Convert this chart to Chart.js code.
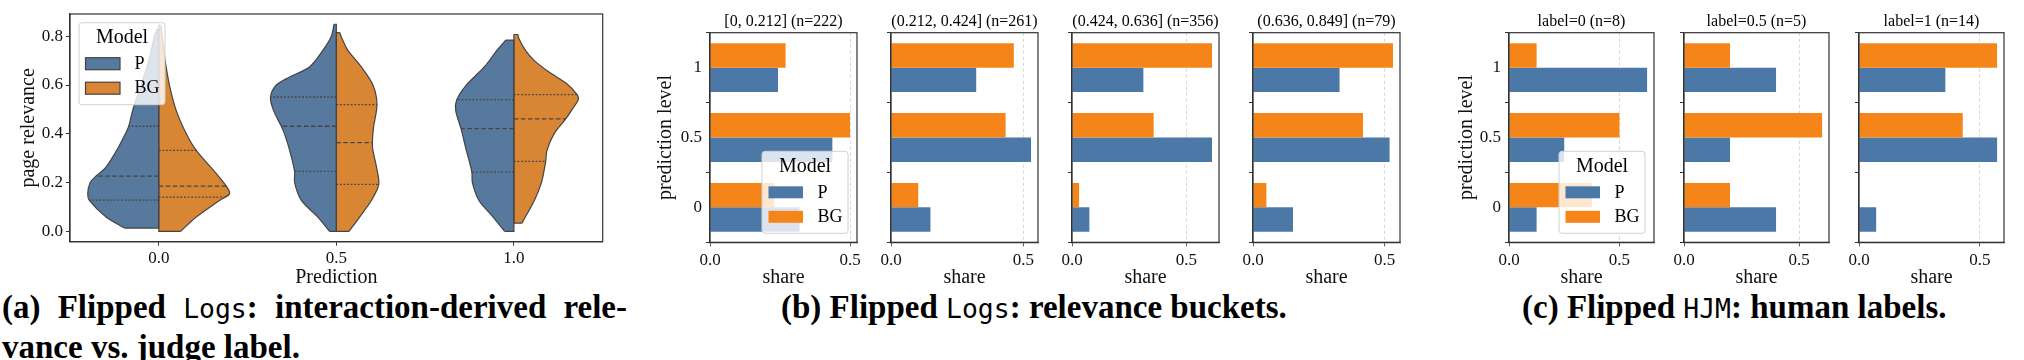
<!DOCTYPE html>
<html>
<head>
<meta charset="utf-8">
<script src="https://cdn.jsdelivr.net/npm/chart.js@4.4.1/dist/chart.umd.min.js"></script>
<style>
  body { margin: 0; background: #fff; width: 2024px; height: 360px; overflow: hidden; position: relative; }
  .cap { position: absolute; font-family: "Liberation Serif", serif; font-weight: bold; font-size: 30px; line-height: 36px; white-space: nowrap; color: #000; }
  .cap code { font-family: "DejaVu Sans Mono", monospace; font-weight: normal; font-size: 0.8em; }
</style>
</head>
<body>
<div class="cap" id="capA1" style="left:2px;top:290px">(a) Flipped <code>Logs</code>: interaction-derived rele-</div>
<div class="cap" id="capA2" style="left:2px;top:326px">vance vs. judge label.</div>
<div class="cap" id="capB" style="left:781px;top:290px">(b) Flipped <code>Logs</code>: relevance buckets.</div>
<div class="cap" id="capC" style="left:1522px;top:290px">(c) Flipped <code>HJM</code>: human labels.</div>
<script>
// ---- data ----
var models = ['P', 'BG'];
var predLabels = ['0.0', '0.5', '1.0'];

// violin outlines per prediction: [page relevance, half width in category units]
var violinP = [
  [[0.014, .193], [0.059, .297], [0.127, .391], [0.155, .400], [0.2, .387], [0.227, .353], [0.264, .297], [0.332, .237], [0.4, .188], [0.431, .169], [0.496, .147], [0.6, .099], [0.7, .056], [0.8, .024], [0.83, .008]],
  [[0.0, .038], [0.059, .104], [0.127, .197], [0.2, .235], [0.246, .235], [0.332, .263], [0.4, .292], [0.431, .310], [0.496, .354], [0.551, .371], [0.6, .338], [0.633, .263], [0.674, .151], [0.742, .076], [0.8, .028], [0.849, .013]],
  [[0.0, .052], [0.059, .117], [0.127, .197], [0.2, .234], [0.243, .237], [0.332, .268], [0.421, .298], [0.496, .328], [0.54, .322], [0.6, .268], [0.674, .167], [0.742, .096], [0.784, .046]]
];
var violinBG = [
  [[0.0, .122], [0.059, .211], [0.127, .342], [0.155, .399], [0.186, .380], [0.237, .324], [0.332, .211], [0.4, .155], [0.496, .098], [0.6, .060], [0.7, .036], [0.8, .019], [0.845, .011]],
  [[0.0, .071], [0.059, .131], [0.127, .197], [0.193, .239], [0.264, .226], [0.332, .206], [0.364, .203], [0.43, .210], [0.52, .229], [0.6, .206], [0.674, .141], [0.742, .065], [0.797, .028], [0.815, .019]],
  [[0.034, .045], [0.127, .115], [0.2, .155], [0.287, .179], [0.332, .186], [0.4, .226], [0.461, .292], [0.51, .337], [0.54, .363], [0.561, .356], [0.606, .296], [0.654, .196], [0.7, .115], [0.742, .065], [0.797, .024], [0.807, .024]]
];
// quartiles (q1, median, q3)
var quartP = [[0.128, 0.227, 0.431], [0.246, 0.431, 0.551], [0.243, 0.421, 0.54]];
var quartBG = [[0.141, 0.186, 0.332], [0.193, 0.364, 0.52], [0.287, 0.461, 0.561]];

var levels = ['1', '0.5', '0'];
var bucketTitles = ['[0, 0.212] (n=222)', '(0.212, 0.424] (n=261)', '(0.424, 0.636] (n=356)', '(0.636, 0.849] (n=79)'];
var bucketP = [[0.243, 0.437, 0.320], [0.322, 0.529, 0.149], [0.312, 0.612, 0.076], [0.329, 0.519, 0.152]];
var bucketBG = [[0.270, 0.500, 0.230], [0.464, 0.433, 0.103], [0.612, 0.357, 0.031], [0.532, 0.418, 0.051]];

var labelTitles = ['label=0 (n=8)', 'label=0.5 (n=5)', 'label=1 (n=14)'];
var labelP = [[0.625, 0.25, 0.125], [0.4, 0.2, 0.4], [0.357, 0.571, 0.071]];
var labelBG = [[0.125, 0.5, 0.375], [0.2, 0.6, 0.2], [0.571, 0.429, 0]];

// ---- style ----
var blue = '#4C78A8', orange = '#F58518';
var vBlue = '#57799E', vOrange = '#D98634';
var edge = '#444444', axisCol = '#333333';
var serif = '"Liberation Serif", "Times New Roman", serif';

var frame = {
  id: 'frame',
  afterDraw: function (chart) {
    var a = chart.chartArea, ctx = chart.ctx;
    ctx.save();
    ctx.strokeStyle = axisCol;
    ctx.lineWidth = 1.2;
    ctx.strokeRect(a.left, a.top, a.right - a.left, a.bottom - a.top);
    ctx.restore();
  }
};

var panelTitle = {
  id: 'panelTitle',
  afterDraw: function (chart, args, opts) {
    if (!opts.text) return;
    var a = chart.chartArea, ctx = chart.ctx;
    ctx.save();
    ctx.font = '16px ' + serif;
    ctx.fillStyle = '#000';
    ctx.textAlign = 'center';
    ctx.textBaseline = 'middle';
    ctx.fillText(opts.text, (a.left + a.right) / 2, 21.5);
    ctx.restore();
  }
};

var boxLegend = {
  id: 'boxLegend',
  afterDraw: function (chart, args, opts) {
    if (!opts.corner) return;
    var a = chart.chartArea, ctx = chart.ctx, w = 86, h = 82;
    var x = opts.corner === 'tl' ? a.left + 9 : a.right - 9 - w;
    var y = opts.corner === 'tl' ? a.top + 8.7 : a.bottom - 9 - h;
    ctx.save();
    ctx.fillStyle = 'rgba(255,255,255,0.8)';
    ctx.strokeStyle = '#d0d0d0';
    ctx.lineWidth = 1;
    ctx.beginPath();
    ctx.roundRect(x, y, w, h, 3);
    ctx.fill();
    ctx.stroke();
    ctx.fillStyle = '#000';
    ctx.textBaseline = 'middle';
    ctx.textAlign = 'center';
    ctx.font = '20px ' + serif;
    ctx.fillText('Model', x + w / 2, y + 15.5);
    ctx.textAlign = 'left';
    ctx.font = '18px ' + serif;
    models.forEach(function (m, i) {
      var py = y + 35 + i * 24.5;
      ctx.fillStyle = opts.colors[i];
      ctx.fillRect(x + 6.5, py, 34.5, 12);
      if (opts.edge) {
        ctx.strokeStyle = opts.edge;
        ctx.lineWidth = 1.2;
        ctx.strokeRect(x + 6.5, py, 34.5, 12);
      }
      ctx.fillStyle = '#000';
      ctx.fillText(m, x + 55.5, py + 6.5);
    });
    ctx.restore();
  }
};

function makeCanvas(left, width, height) {
  var c = document.createElement('canvas');
  c.width = width;
  c.height = height;
  c.style.cssText = 'position:absolute;top:0;left:' + left + 'px;width:' + width + 'px;height:' + height + 'px';
  document.body.appendChild(c);
  return c;
}

function halfWidthAt(prof, v) {
  for (var i = 1; i < prof.length; i++) {
    if (v <= prof[i][0]) {
      var t = (v - prof[i - 1][0]) / (prof[i][0] - prof[i - 1][0]);
      return prof[i - 1][1] + t * (prof[i][1] - prof[i - 1][1]);
    }
  }
  return prof[prof.length - 1][1];
}

// ---- (a) split violins ----
function violinSets() {
  var sets = [];
  predLabels.forEach(function (lab, c) {
    [violinP, violinBG].forEach(function (src, m) {
      var side = m === 0 ? -1 : 1;
      var prof = src[c];
      var first = prof[0], last = prof[prof.length - 1];
      sets.push({
        data: prof.map(function (p) { return {x: c + side * p[1], y: p[0]}; }),
        fill: {value: c}, backgroundColor: m === 0 ? vBlue : vOrange,
        borderColor: edge, borderWidth: 1.2, tension: 0.3, order: 3
      });
      sets.push({
        data: [{x: c + side * first[1], y: first[0]}, {x: c, y: first[0]}, {x: c, y: last[0]}, {x: c + side * last[1], y: last[0]}],
        fill: false, borderColor: edge, borderWidth: 1.2, tension: 0, order: 2
      });
      var q = m === 0 ? quartP[c] : quartBG[c];
      q.forEach(function (v, k) {
        sets.push({
          data: [{x: c, y: v}, {x: c + side * halfWidthAt(prof, v), y: v}],
          fill: false, borderColor: edge, borderWidth: 1.3,
          borderDash: k === 1 ? [4.5, 2.5] : [1.8, 1.8], tension: 0, order: 1
        });
      });
    });
  });
  return sets;
}

new Chart(makeCanvas(0, 616, 290), {
  type: 'line',
  data: {datasets: violinSets()},
  plugins: [frame, boxLegend],
  options: {
    responsive: false, animation: false, events: [], indexAxis: 'y',
    layout: {padding: {top: 14, right: 13.3, left: 0, bottom: 0}},
    elements: {point: {radius: 0, hoverRadius: 0}},
    plugins: {
      legend: {display: false}, tooltip: {enabled: false},
      boxLegend: {corner: 'tl', colors: [vBlue, vOrange], edge: edge}
    },
    scales: {
      x: {
        type: 'linear', position: 'bottom', min: -0.5, max: 2.5,
        afterFit: function (s) { s.height = 48.3; },
        afterBuildTicks: function (s) { s.ticks = predLabels.map(function (l, i) { return {value: i}; }); },
        ticks: {autoSkip: false, maxRotation: 0, padding: 3, color: '#111',
          font: {family: serif, size: 17}, callback: function (v) { return predLabels[v]; }},
        grid: {drawOnChartArea: false, tickLength: 4, tickColor: axisCol},
        border: {color: axisCol, width: 1.2},
        title: {display: true, text: 'Prediction', color: '#111', font: {family: serif, size: 20}, padding: 0}
      },
      y: {
        type: 'linear', position: 'left', min: -0.042, max: 0.891,
        afterFit: function (s) { s.width = 70; },
        ticks: {stepSize: 0.2, includeBounds: false, padding: 3, color: '#111',
          font: {family: serif, size: 17}, callback: function (v) { return v.toFixed(1); }},
        grid: {drawOnChartArea: false, tickLength: 4, tickColor: axisCol},
        border: {color: axisCol, width: 1.2},
        title: {display: true, text: 'page relevance', color: '#111', font: {family: serif, size: 20}, padding: {top: 16.3, bottom: 0}}
      }
    }
  }
});

// ---- (b), (c) horizontal share bars ----
function barPanel(left, plotW, title, P, BG, showY, legend, ytPad) {
  var yw = showY ? 70 : 20, pr = 14;
  var xmax = Math.max.apply(null, P.concat(BG)) * 1.05;
  new Chart(makeCanvas(left - yw, yw + plotW + pr, 290), {
    type: 'bar',
    data: {
      labels: levels,
      datasets: [
        {label: 'BG', data: BG, backgroundColor: orange, borderWidth: 0, categoryPercentage: 0.7, barPercentage: 1},
        {label: 'P', data: P, backgroundColor: blue, borderWidth: 0, categoryPercentage: 0.7, barPercentage: 1}
      ]
    },
    plugins: [frame, panelTitle, boxLegend],
    options: {
      indexAxis: 'y', responsive: false, animation: false, events: [],
      layout: {padding: {top: 32.7, right: pr, left: 0, bottom: 0}},
      plugins: {
        legend: {display: false}, tooltip: {enabled: false},
        panelTitle: {text: title},
        boxLegend: legend ? {corner: 'br', colors: [blue, orange]} : {}
      },
      scales: {
        x: {
          type: 'linear', min: 0, max: xmax,
          afterFit: function (s) { s.height = 47.7; },
          afterBuildTicks: function (s) { s.ticks = [{value: 0}, {value: 0.5}]; },
          ticks: {maxRotation: 0, padding: 4, color: '#111',
            font: {family: serif, size: 17}, callback: function (v) { return v.toFixed(1); }},
          grid: {
            drawOnChartArea: true, lineWidth: 0.8, tickLength: 4, tickColor: axisCol, tickBorderDash: [],
            color: function (ctx) { return ctx.tick && ctx.tick.value === 0.5 ? '#cccccc' : 'rgba(0,0,0,0)'; }
          },
          border: {color: axisCol, width: 1.2, dash: [3, 3]},
          title: {display: true, text: 'share', color: '#111', font: {family: serif, size: 20}, padding: {top: 0, bottom: 0.3}}
        },
        y: {
          type: 'category', offset: true,
          afterFit: function (s) { s.width = yw; },
          ticks: {padding: 4, color: '#111', font: {family: serif, size: 17},
            callback: function (v) { return showY ? this.getLabelForValue(v) : ''; }},
          grid: {drawOnChartArea: false, tickLength: 4, tickColor: axisCol},
          border: {color: axisCol, width: 1.2},
          title: {display: showY, text: 'prediction level', color: '#111', font: {family: serif, size: 20}, padding: {top: ytPad || 0, bottom: 0}}
        }
      }
    }
  });
}

var bucketLeft = [710, 891, 1072, 1253];
bucketTitles.forEach(function (t, i) {
  barPanel(bucketLeft[i], 147, t, bucketP[i], bucketBG[i], i === 0, i === 0, 14);
});
var labelLeft = [1509, 1684, 1859];
labelTitles.forEach(function (t, i) {
  barPanel(labelLeft[i], 145, t, labelP[i], labelBG[i], i === 0, i === 0, 15.7);
});

// ---- captions: size to the reference widths ----
(function () {
  var b = document.getElementById('capB');
  var k = 506 / b.getBoundingClientRect().width;
  var size = 30 * k;
  ['capA1', 'capA2', 'capB', 'capC'].forEach(function (id) {
    var el = document.getElementById(id);
    el.style.fontSize = size + 'px';
    el.style.lineHeight = (36 * k) + 'px';
    el.style.top = (318 - (size * 0.891 + (36 * k - size * 1.149) / 2)) + 'px';
  });
  var a2 = document.getElementById('capA2');
  a2.style.top = (parseFloat(document.getElementById('capA1').style.top) + 40) + 'px';
  var a1 = document.getElementById('capA1');
  var extra = 625 - a1.getBoundingClientRect().width;
  a1.style.wordSpacing = (extra / 4) + 'px';
})();
</script>
</body>
</html>
